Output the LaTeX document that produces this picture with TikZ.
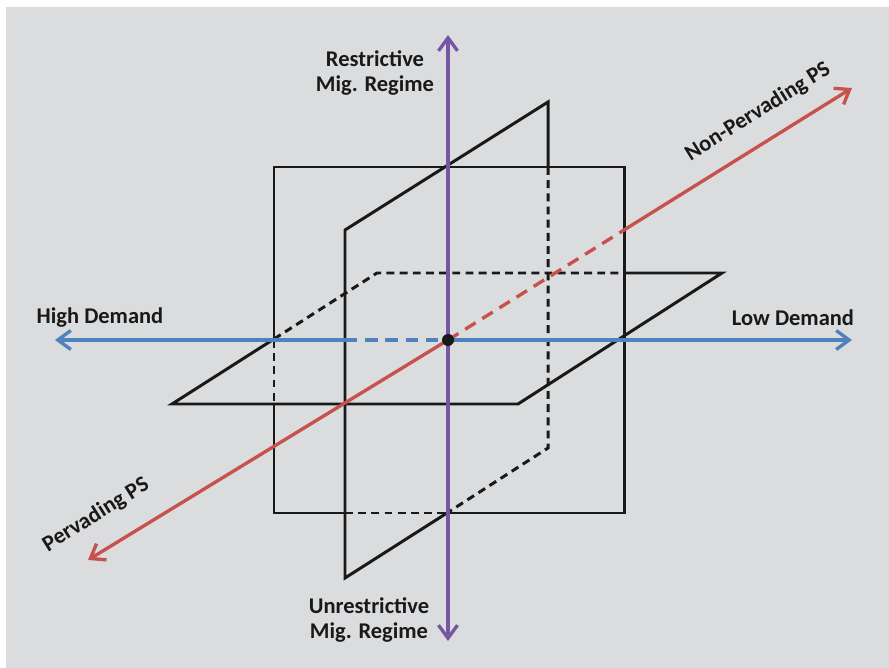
\documentclass[tikz,border=0pt]{standalone}
\usepackage{fontspec}
\setmainfont{Carlito}
\usetikzlibrary{arrows.meta}
\definecolor{canvasgrey}{RGB}{219,220,222}
\definecolor{demandblue}{HTML}{4F81BD}
\definecolor{psred}{HTML}{C8504D}
\definecolor{regimepurple}{HTML}{7656A2}

\begin{document}
\begin{tikzpicture}[
    x=0.02cm, y=-0.02cm,
    plane/.style     = {line width=1.7pt, black!90, line join=miter},
    hidden/.style    = {plane, dash pattern=on 4.5pt off 3pt},
    axisline/.style  = {line width=1.9pt},
    axisend/.style   = {-{Straight Barb[length=2.6mm,width=3.8mm]}},
    lbl/.style       = {font=\fontsize{12.8}{14}\selectfont\bfseries,
                        align=center, text=black!90},
]

% Fixed canvas: pixel grid of the source, y pointing down
\useasboundingbox (0,0) rectangle (889,668);
\fill[canvasgrey] (6,7) rectangle (889,668);

% --- corners and crossings ------------------------------------------------
\coordinate (centre) at (448,340);
\coordinate (lowend)   at (852,340);
\coordinate (highend)  at (55,340);
\coordinate (restrend) at (448,35);
\coordinate (unrestrend) at (448,641);
\coordinate (nonpend)  at (852,88);
\coordinate (pend)     at (88,560);

% --- front square (demand x regime) ----------------------------------------
\draw[plane] (274,404) -- (274,513) -- (345,513);
\draw[plane] (447,513) -- (624,513) -- (624,167) -- (274,167) -- (274,340);
\draw[hidden] (274,340) -- (274,404);
\draw[hidden] (345,513) -- (447,513);

% --- horizontal plane (demand x PS) -----------------------------------------
\draw[plane] (274,339) -- (172,404) -- (518,404) -- (722,273) -- (624,273);
\draw[hidden] (274,339) -- (377,273) -- (624,273);

% --- slanted plane (regime x PS) --------------------------------------------
\draw[plane] (447,513) -- (345,578) -- (345,230) -- (548,102) -- (548,167);
\draw[hidden] (548,167) -- (548,448) -- (447,513);

% --- axes -----------------------------------------------------------------
\draw[axisline, demandblue, axisend] (345,340) -- (highend);
\draw[axisline, demandblue, dash pattern=on 7pt off 4.5pt] (345,340) -- (centre);
\draw[axisline, demandblue, axisend] (centre) -- (lowend);

\draw[axisline, psred, axisend] (centre) -- (pend);
\draw[axisline, psred, dash pattern=on 7pt off 4.5pt] (centre) -- (624,230);
\draw[axisline, psred, axisend] (624,230) -- (nonpend);

\draw[axisline, regimepurple, axisend] (centre) -- (restrend);
\draw[axisline, regimepurple, axisend] (centre) -- (unrestrend);

\fill[black!90] (centre) circle (6);

% --- labels ---------------------------------------------------------------
\node[lbl] (restr)   at (375,73)  {Restrictive\\Mig. Regime};
\node[lbl] (unrestr) at (369,620) {Unrestrictive\\Mig. Regime};
\node[lbl] (high)    at (100,318) {High Demand};
\node[lbl] (low)     at (793,318) {Low Demand};
\node[lbl, rotate=32] (nonperv) at (758,112) {Non-Pervading PS};
\node[lbl, rotate=32] (perv)    at (96,515)  {Pervading PS};

\end{tikzpicture}
\end{document}
